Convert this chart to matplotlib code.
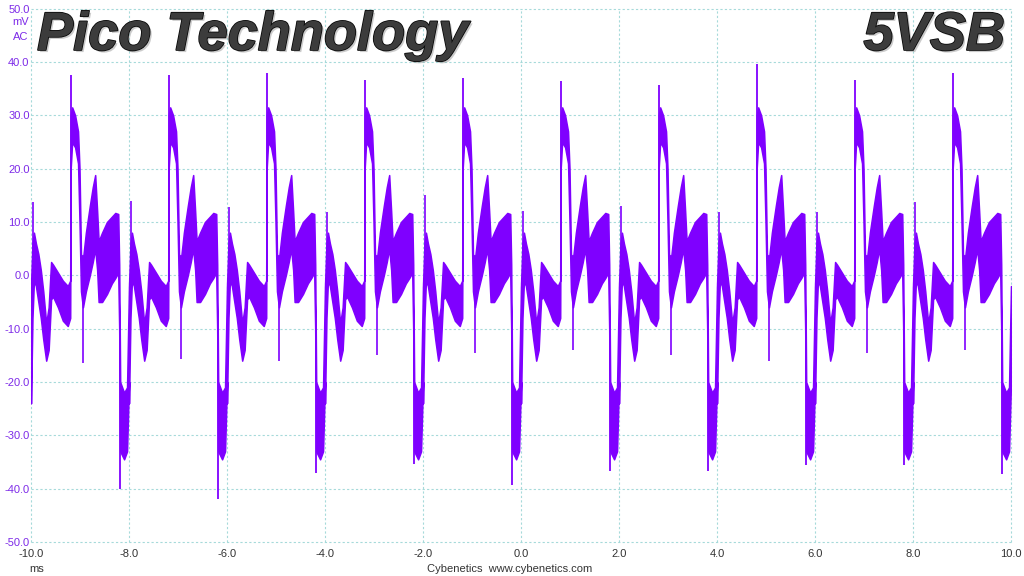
import numpy as np
import matplotlib
matplotlib.use('Agg')
import matplotlib.pyplot as plt
import matplotlib.patheffects as pe

# one 2 ms ripple cycle (phase in ms, envelope in mV)
cycle_phase = [0.00, 0.03, 0.06, 0.10, 0.15, 0.20, 0.25, 0.31, 0.36, 0.41,
               0.45, 0.55, 0.65, 0.75, 0.80, 0.81, 0.84, 0.90, 0.96, 0.99,
               1.02, 1.06, 1.12, 1.20, 1.26, 1.31, 1.35, 1.38, 1.45, 1.55,
               1.65, 1.72, 1.78, 1.80, 1.82, 1.90, 1.96, 2.00]
cycle_upper = [-2.0, 6.0, 8.0, 6.0, 4.0, 1.0, -3.0, -9.0, -6.0, 2.5,
               2.0, 0.5, -1.0, -2.0, -1.0, 30.0, 31.5, 30.0, 27.0, 20.0,
               4.0, 3.0, 8.0, 13.0, 16.5, 18.8, 12.0, 6.4, 8.0, 10.0,
               11.0, 11.7, 11.5, 2.0, -20.0, -22.0, -21.0, -2.0]
cycle_lower = [-24.0, -8.0, -1.0, -2.0, -5.0, -8.0, -12.0, -16.0, -14.0, -4.5,
               -4.0, -6.0, -8.5, -9.5, -8.0, 20.0, 25.0, 24.0, 21.0, 10.0,
               -3.0, -6.0, -3.0, 0.0, 2.5, 5.0, 1.0, -5.0, -5.0, -3.5,
               -1.5, -0.5, 0.5, -10.0, -33.0, -34.5, -33.0, -20.0]

cycle_start = [-10.0, -8.0, -6.0, -4.0, -2.0, 0.0, 2.0, 4.0, 6.0, 8.0]
# spikes per cycle (mV)
spike_top = [37.5, 37.5, 38.0, 36.6, 37.0, 36.5, 35.6, 39.6, 36.6, 38.0]       # ~0.81 ms
spike_bottom = [-40.0, -42.0, -37.0, -35.3, -39.4, -36.6, -36.6, -35.6, -35.6, -37.2]  # ~1.81 ms
spike_small_up = [13.7, 14.0, 12.8, 11.8, 15.0, 12.0, 13.0, 11.8, 11.8, 13.7]   # ~0.04 ms
spike_small_dn = [-16.5, -15.6, -16.0, -15.0, -14.6, -14.0, -15.0, -16.0, -14.5, -14.0]  # ~1.07 ms

x_ticks = [-10.0, -8.0, -6.0, -4.0, -2.0, 0.0, 2.0, 4.0, 6.0, 8.0, 10.0]
y_ticks = [-50.0, -40.0, -30.0, -20.0, -10.0, 0.0, 10.0, 20.0, 30.0, 40.0, 50.0]

trace = '#7f00ff'
lab_purple = '#7d2ae8'
grid_c = '#a6dada'

# build the trace
t, up, lo = [], [], []
for c in cycle_start:
    for p, u, l in zip(cycle_phase, cycle_upper, cycle_lower):
        t.append(c + p)
        up.append(u)
        lo.append(l)
t = np.array(t); up = np.array(up); lo = np.array(lo)

fig = plt.figure(figsize=(10.24, 5.76), dpi=100)
ax = fig.add_axes([31/1024, 1-542/576, 980/1024, 533.3/576])

ax.fill_between(t, lo, up, color=trace, lw=1.1, edgecolor=trace, zorder=3)

cs = np.array(cycle_start)
ax.vlines(cs + 0.81, np.interp(cs + 0.81, t, lo), spike_top, color=trace, lw=1.3, zorder=3)
ax.vlines(cs + 1.81, spike_bottom, np.interp(cs + 1.81, t, up), color=trace, lw=1.3, zorder=3)
ax.vlines(cs + 0.04, np.interp(cs + 0.04, t, lo), spike_small_up, color=trace, lw=1.2, zorder=3)
ax.vlines(cs + 1.07, spike_small_dn, np.interp(cs + 1.07, t, up), color=trace, lw=1.2, zorder=3)

ax.set_xlim(-10, 10)
ax.set_ylim(-50, 50)
ax.set_xticks(x_ticks)
ax.set_yticks(y_ticks)
ax.set_xticklabels(['%.1f' % v for v in x_ticks])
ax.set_yticklabels(['%.1f' % v for v in y_ticks])
for s in ax.spines.values():
    s.set_visible(False)
ax.tick_params(length=0, labelsize=8)
ax.tick_params(axis='y', pad=1, labelcolor=lab_purple)
ax.tick_params(axis='x', pad=5, labelcolor='#333333')
for lbl in ax.get_xticklabels() + ax.get_yticklabels():
    lbl.set_family('Liberation Sans')
ax.grid(True, color=grid_c, ls=(0, (2, 2)), lw=0.8)
for gl in ax.get_xgridlines() + ax.get_ygridlines():
    gl.set_clip_on(False)
ax.set_axisbelow(True)

fig.text(21/1024, 1-22/576, 'mV', color=lab_purple, fontsize=8, ha='center', va='center', family='Liberation Sans')
fig.text(21/1024, 1-37/576, 'AC', color=lab_purple, fontsize=8, ha='center', va='center', family='Liberation Sans')
fig.text(37/1024, 1-569/576, 'ms', color='#333333', fontsize=8, ha='center', va='center', family='Liberation Sans')
fig.text(510/1024, 1-569/576, 'Cybenetics  www.cybenetics.com', color='#333333', fontsize=8,
         ha='center', va='center', family='Liberation Sans')

fx = [pe.withSimplePatchShadow(offset=(1.5, -1.5), shadow_rgbFace='#999999', alpha=0.5),
      pe.Stroke(linewidth=1.2, foreground='#0a0a0a'), pe.Normal()]
fig.text(37/1024, 1-50/576, 'Pico Technology', fontsize=39, fontweight='bold', style='italic',
         family='Liberation Sans', color='#3c3c3c', va='baseline', ha='left', path_effects=fx)
fig.text(1005/1024, 1-50/576, '5VSB', fontsize=39, fontweight='bold', style='italic',
         family='Liberation Sans', color='#3c3c3c', va='baseline', ha='right', path_effects=fx)

fig.savefig('out.png', dpi=100)
